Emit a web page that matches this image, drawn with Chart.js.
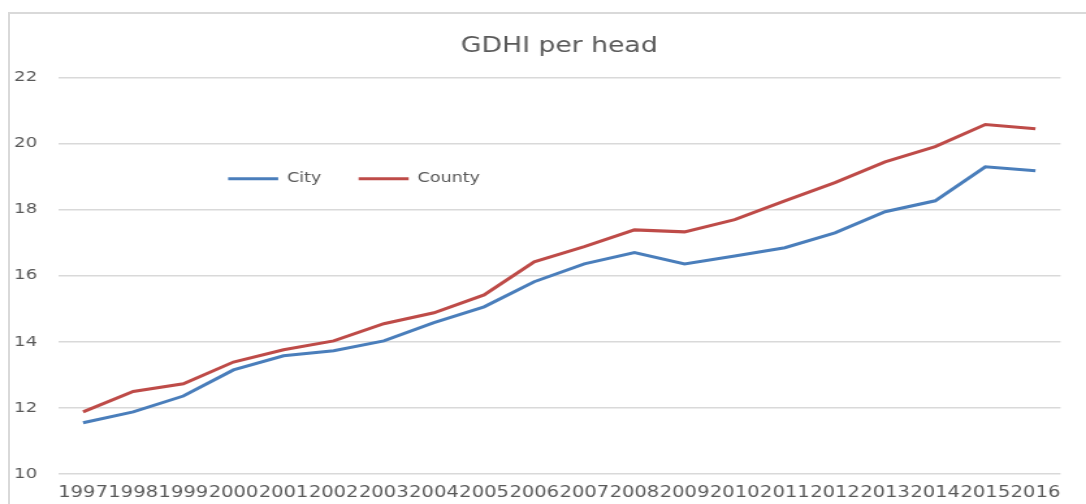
<!DOCTYPE html>
<html>
<head>
<meta charset="utf-8">
<title>GDHI per head</title>
<script src="https://cdn.jsdelivr.net/npm/chart.js@4/dist/chart.umd.min.js"></script>
<style>
  html, body { margin: 0; padding: 0; background: #fff; overflow: hidden; }
  #frame { position: absolute; left: 8px; top: 12px; width: 1100px; height: 520px; border: 2px solid #d9d9d9; }
  #gdhiCanvas { position: absolute; left: 0; top: 0; }
</style>
</head>
<body>
<div id="frame"></div>
<!-- drawn narrower and shown stretched, like the original picture -->
<canvas id="gdhiCanvas" width="835" height="504" style="width:1086px;height:504px"></canvas>
<script>
var years = ['1997','1998','1999','2000','2001','2002','2003','2004','2005','2006',
             '2007','2008','2009','2010','2011','2012','2013','2014','2015','2016'];
var city = [11.55, 11.88, 12.36, 13.15, 13.58, 13.73, 14.03, 14.58, 15.06, 15.82,
            16.36, 16.70, 16.36, 16.60, 16.85, 17.30, 17.94, 18.27, 19.30, 19.18];
var county = [11.88, 12.50, 12.73, 13.39, 13.76, 14.03, 14.55, 14.88, 15.42, 16.42,
              16.88, 17.39, 17.33, 17.70, 18.27, 18.82, 19.45, 19.91, 20.58, 20.45];
var yTicks = [10, 12, 14, 16, 18, 20, 22];

var textGrey = '#595959';
var fontName = "'DejaVu Sans', sans-serif";

// the legend takes no room at the top; move it inside the plot like the original
var legendSpot = {
    id: 'legendSpot',
    afterLayout: function(chart) {
        var lg = chart.legend;
        var w = lg.width;
        lg.left = 146.8;
        lg.top = 143.4;
        lg.height = 60;
        lg.right = lg.left + w;
        lg.bottom = lg.top + lg.height;
    }
};

const ctx0 = document.getElementById('gdhiCanvas');

var gdhiChart = new Chart(ctx0, {
    type: 'line',
    data: {
        labels: years,
        datasets: [{
            label: 'City',
            data: city,
            borderColor: '#4a7ebb',
            backgroundColor: '#4a7ebb',
            borderWidth: 3,
            pointRadius: 0,
            tension: 0
        }, {
            label: 'County',
            data: county,
            borderColor: '#be4b48',
            backgroundColor: '#be4b48',
            borderWidth: 3,
            pointRadius: 0,
            tension: 0
        }]
    },
    options: {
        responsive: false,
        animation: false,
        layout: { padding: { left: 0, right: 19.6, top: 0, bottom: 0 } },
        plugins: {
            title: {
                display: true,
                fullSize: false,
                text: 'GDHI per head',
                color: textGrey,
                font: { family: fontName, size: 20.5, weight: 'normal' },
                padding: { top: 34, bottom: 19 }
            },
            legend: {
                position: 'top',
                align: 'start',
                maxHeight: 0.001,
                labels: {
                    color: textGrey,
                    font: { family: fontName, size: 13.5 },
                    boxWidth: 38.5,
                    boxHeight: 3,
                    padding: 28.6,
                    generateLabels: function(chart) {
                        var items = Chart.defaults.plugins.legend.labels.generateLabels(chart);
                        items.forEach(function(it) { it.lineWidth = 0; });
                        return items;
                    }
                }
            },
            tooltip: { enabled: false }
        },
        scales: {
            x: {
                offset: true,
                grid: { display: false },
                border: { display: false },
                ticks: {
                    color: textGrey,
                    font: { family: fontName, size: 15 },
                    autoSkip: false,
                    maxRotation: 0,
                    padding: 2
                },
                afterFit: function(s) { s.height = 30; }
            },
            y: {
                min: 10,
                max: 22,
                afterBuildTicks: function(s) {
                    s.ticks = yTicks.map(function(v) { return { value: v }; });
                },
                grid: { color: '#d9d9d9', lineWidth: 1.5, drawTicks: false },
                border: { display: false },
                ticks: {
                    color: textGrey,
                    font: { family: fontName, size: 14 },
                    padding: 16
                },
                afterFit: function(s) { s.width = 44.6; }
            }
        }
    },
    plugins: [legendSpot]
});
</script>
</body>
</html>
